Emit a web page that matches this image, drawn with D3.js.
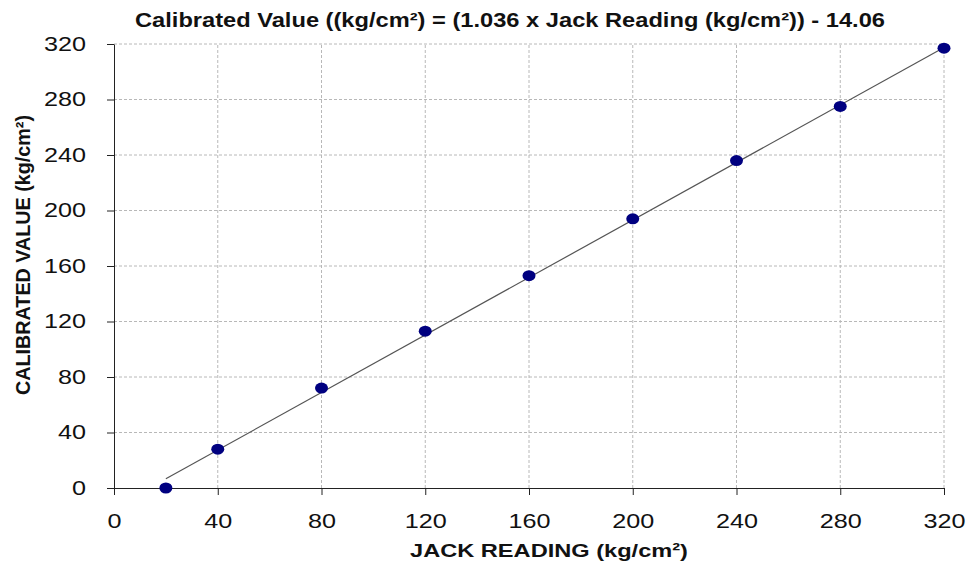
<!DOCTYPE html>
<html>
<head>
<meta charset="utf-8">
<script src="https://cdn.jsdelivr.net/npm/d3@7"></script>
<style>
  body { margin: 0; background: #fff; }
  svg { display: block; font-family: "Liberation Sans", Arial, sans-serif; }
  .grid line { stroke: #b8b8b8; stroke-dasharray: 3,2; stroke-width: 1; }
  .axis path, .axis line { stroke: #222; }
  .axis text { font-size: 20px; fill: #111; }
</style>
</head>
<body>
<svg width="967" height="561"></svg>
<script>
var svg = d3.select('svg');

var jack_readings = [20, 40, 80, 120, 160, 200, 240, 280, 320];
var calibrated_values = [0, 28, 72, 113, 153, 194, 236, 275, 317];

var x_ticks = [0, 40, 80, 120, 160, 200, 240, 280, 320];
var y_ticks = [0, 40, 80, 120, 160, 200, 240, 280, 320];

// trendline from the title
var slope = 1.036;
var intercept = -14.06;
var fit_range = [20, 320];

var plot_left = 114, plot_right = 944, plot_top = 44, plot_bottom = 488;
var digit_w = 14; // the source picture is stretched sideways, so widen the text

var x = d3.scaleLinear().domain([0, 320]).range([plot_left, plot_right]);
var y = d3.scaleLinear().domain([0, 320]).range([plot_bottom, plot_top]);

// gridlines
var grid = svg.append('g').attr('class', 'grid');
grid.selectAll('.vline')
  .data(x_ticks.filter(function(d) { return d > 0; }))
  .enter()
  .append('line')
  .attr('x1', function(d) { return x(d); })
  .attr('x2', function(d) { return x(d); })
  .attr('y1', y(0))
  .attr('y2', y(320));
grid.selectAll('.hline')
  .data(y_ticks.filter(function(d) { return d > 0; }))
  .enter()
  .append('line')
  .attr('x1', x(0))
  .attr('x2', x(320))
  .attr('y1', function(d) { return y(d); })
  .attr('y2', function(d) { return y(d); });

function widen(g) {
  g.selectAll('text')
    .attr('textLength', function(d) { return String(d).length * digit_w; })
    .attr('lengthAdjust', 'spacingAndGlyphs');
}

// axes
svg.append('g')
  .attr('class', 'axis')
  .attr('transform', 'translate(0,' + plot_bottom + ')')
  .call(d3.axisBottom(x).tickValues(x_ticks).tickSize(7).tickSizeOuter(0).tickPadding(33))
  .call(function(g) { g.selectAll('text').attr('dy', null); })
  .call(widen);

svg.append('g')
  .attr('class', 'axis')
  .attr('transform', 'translate(' + plot_left + ',0)')
  .call(d3.axisLeft(y).tickValues(y_ticks).tickSize(7).tickSizeOuter(0).tickPadding(21))
  .call(widen);

// trendline
svg.append('line')
  .attr('x1', x(fit_range[0]))
  .attr('y1', y(slope * fit_range[0] + intercept))
  .attr('x2', x(fit_range[1]))
  .attr('y2', y(slope * fit_range[1] + intercept))
  .attr('stroke', '#555')
  .attr('stroke-width', 1.2);

// points
svg.selectAll('.pt')
  .data(jack_readings)
  .enter()
  .append('ellipse')
  .attr('class', 'pt')
  .attr('cx', function(d) { return x(d); })
  .attr('cy', function(d, i) { return y(calibrated_values[i]); })
  .attr('rx', 6.5)
  .attr('ry', 5.5)
  .attr('fill', '#000080');

// title
svg.append('text')
  .attr('x', 510)
  .attr('y', 27)
  .attr('text-anchor', 'middle')
  .attr('font-size', '19.5px')
  .attr('font-weight', 'bold')
  .attr('fill', '#111')
  .attr('textLength', 750)
  .attr('lengthAdjust', 'spacingAndGlyphs')
  .text('Calibrated Value ((kg/cm²) = (1.036 x Jack Reading (kg/cm²)) - 14.06');

// axis labels
svg.append('text')
  .attr('x', 549)
  .attr('y', 557)
  .attr('text-anchor', 'middle')
  .attr('font-size', '19px')
  .attr('font-weight', 'bold')
  .attr('fill', '#111')
  .attr('textLength', 278)
  .attr('lengthAdjust', 'spacingAndGlyphs')
  .text('JACK READING (kg/cm²)');

svg.append('text')
  .attr('transform', 'translate(30,255) rotate(-90)')
  .attr('text-anchor', 'middle')
  .attr('font-size', '20px')
  .attr('font-weight', 'bold')
  .attr('fill', '#111')
  .attr('textLength', 280)
  .attr('lengthAdjust', 'spacingAndGlyphs')
  .text('CALIBRATED VALUE  (kg/cm²)');
</script>
</body>
</html>
